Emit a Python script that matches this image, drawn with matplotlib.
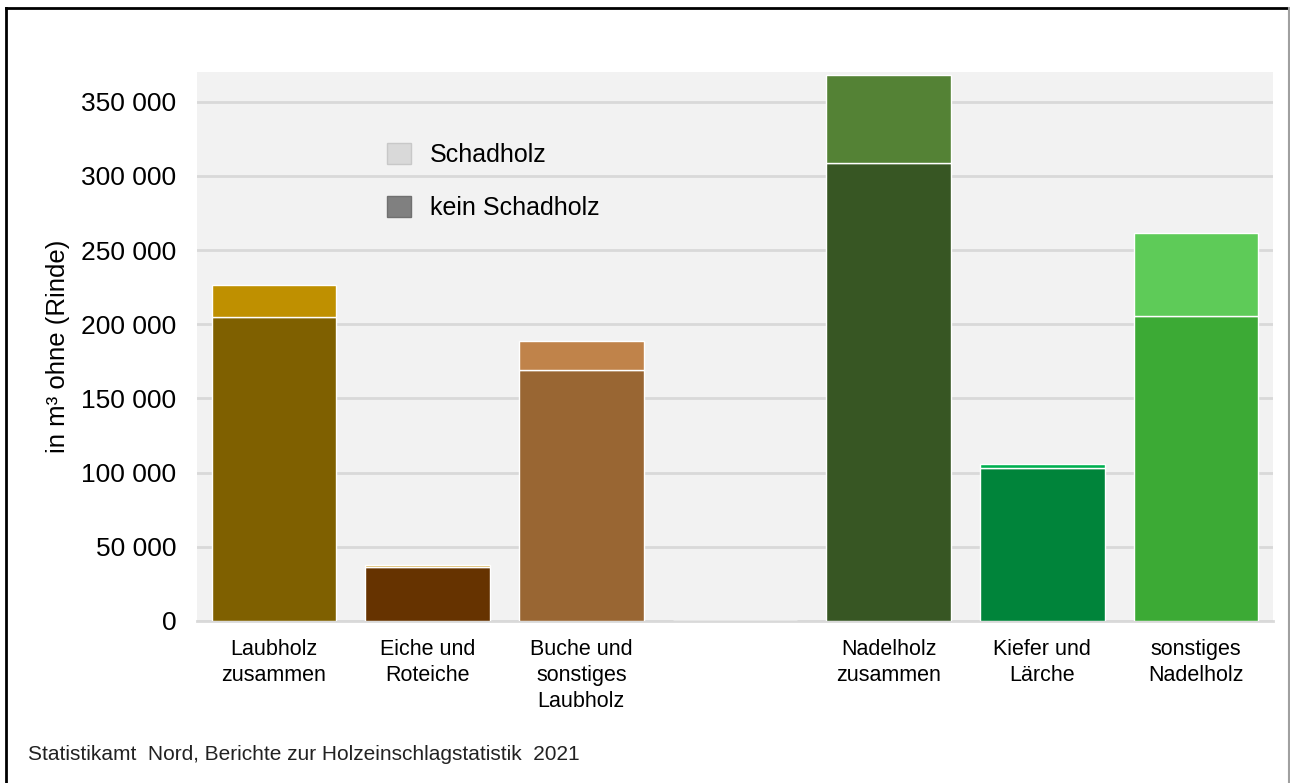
import matplotlib.pyplot as plt
from matplotlib.lines import Line2D
from matplotlib.patches import Patch

plt.rcParams['font.family'] = ['Liberation Sans', 'DejaVu Sans']

# data (m³ ohne Rinde)
categories = ["Laubholz\nzusammen", "Eiche und\nRoteiche", "Buche und\nsonstiges\nLaubholz", "",
              "Nadelholz\nzusammen", "Kiefer und\nLärche", "sonstiges\nNadelholz"]
kein_schadholz = [205000, 36400, 169000, 0, 308500, 103200, 205700]
gesamt = [226500, 37800, 188800, 0, 368000, 105900, 261600]
schadholz = [g - k for g, k in zip(gesamt, kein_schadholz)]

col_bottom = ["#7f6000", "#663300", "#996633", "none", "#375623", "#00843a", "#3caa35"]
col_top = ["#bf9000", "#d4a840", "#c0834a", "none", "#548235", "#00b050", "#5ecb58"]

fig = plt.figure(figsize=(12.9, 7.83), dpi=100)
ax = fig.add_axes([197 / 1290, 1 - 621 / 783, (1273 - 197) / 1290, (621 - 72) / 783])
ax.set_facecolor("#f2f2f2")

x = list(range(len(categories)))
ax.bar(x, kein_schadholz, width=0.81, color=col_bottom, edgecolor="white", linewidth=1, zorder=3)
ax.bar(x, schadholz, width=0.81, bottom=kein_schadholz, color=col_top, edgecolor="white",
       linewidth=1, zorder=3)

ax.set_xlim(-0.5, len(categories) - 0.5)
ax.set_ylim(0, 370000)
yt = list(range(0, 350001, 50000))
ax.set_yticks(yt)
ax.set_yticklabels([f"{v:,}".replace(",", " ") for v in yt], fontsize=19)
ax.set_xticks(x)
ax.set_xticklabels(categories, fontsize=15.5, linespacing=1.32, va="top")
ax.tick_params(axis="both", length=0)
ax.tick_params(axis="y", pad=15)
ax.tick_params(axis="x", pad=13)
ax.grid(axis="y", color="#d9d9d9", linewidth=2, zorder=0)
for s in ["top", "right", "left"]:
    ax.spines[s].set_visible(False)
ax.spines["bottom"].set_color("#d9d9d9")
ax.spines["bottom"].set_linewidth(2)

ax.set_ylabel("in m³ ohne (Rinde)", fontsize=18.5)
ax.yaxis.set_label_coords(-0.118, 0.5)

handles = [Patch(facecolor="#d9d9d9", edgecolor="#c8c8c8"),
           Patch(facecolor="#808080", edgecolor="#707070")]
leg = ax.legend(handles, ["Schadholz", "kein Schadholz"], loc="upper left",
                bbox_to_anchor=(0.156, 0.912), frameon=False, fontsize=18,
                handlelength=0.95, handleheight=0.95, labelspacing=1.15, handletextpad=0.75)

fig.text(28 / 1290, 1 - 754 / 783, "Statistikamt  Nord, Berichte zur Holzeinschlagstatistik  2021",
         fontsize=15, va="center", ha="left", color="#222222")

# frame around the picture
fig.add_artist(Line2D([6 / 1290, 6 / 1290], [0, 1 - 8 / 783], transform=fig.transFigure,
                      color="black", linewidth=2))
fig.add_artist(Line2D([6 / 1290, 1289 / 1290], [1 - 8 / 783, 1 - 8 / 783], transform=fig.transFigure,
                      color="black", linewidth=2))
fig.add_artist(Line2D([1288.5 / 1290, 1288.5 / 1290], [0, 1 - 8 / 783], transform=fig.transFigure,
                      color="#a0a0a0", linewidth=1.5))

fig.savefig("out.png", dpi=100)
